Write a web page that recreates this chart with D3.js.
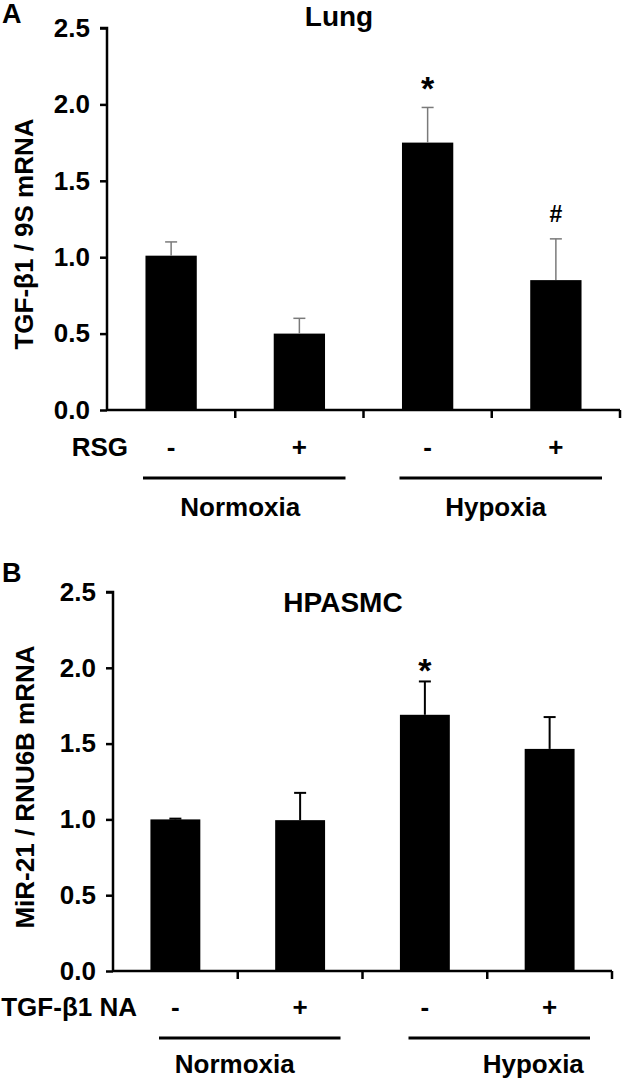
<!DOCTYPE html>
<html>
<head>
<meta charset="utf-8">
<script src="https://cdn.jsdelivr.net/npm/d3@7/dist/d3.min.js"></script>
<style>
  body { margin: 0; background: #fff; }
  svg text { font-family: "Liberation Sans", Arial, sans-serif; font-weight: bold; fill: #000; }
</style>
</head>
<body>
<svg id="chart" width="622" height="1080"></svg>
<script>
// values
const groups = ['N-', 'N+', 'H-', 'H+'];
const signs = ['-', '+', '-', '+'];
const conditionNames = ['Normoxia', 'Hypoxia'];
const yTicks = [0, 0.5, 1.0, 1.5, 2.0, 2.5];

const lungMean = [1.01, 0.50, 1.75, 0.85];
const lungErr = [0.09, 0.10, 0.23, 0.27];
const lungMarks = ['', '', '*', '#'];

const smcMean = [1.00, 0.995, 1.69, 1.465];
const smcErr = [0.005, 0.18, 0.22, 0.21];
const smcMarks = ['', '', '*', ''];

const svg = d3.select('#chart');

function drawPanel(p) {
  const g = svg.append('g');
  const y = d3.scaleLinear().domain([0, 2.5]).range([p.y0, p.yTop]);
  const x = d3.scaleBand().domain(groups).range([p.left, p.right]).padding(0);
  const bw = x.bandwidth() * 0.4;
  const cx = (d) => x(d) + x.bandwidth() / 2;

  // bars
  g.selectAll('rect').data(groups).join('rect')
    .attr('x', d => cx(d) - bw / 2)
    .attr('width', bw)
    .attr('y', (d, i) => y(p.mean[i]))
    .attr('height', (d, i) => y(0) - y(p.mean[i]))
    .attr('fill', '#000');

  // error bars (upper only)
  const eb = g.append('g').attr('stroke', p.errColor).attr('stroke-width', p.errWidth);
  groups.forEach((d, i) => {
    const top = y(p.mean[i] + p.err[i]);
    eb.append('line').attr('x1', cx(d)).attr('x2', cx(d)).attr('y1', y(p.mean[i])).attr('y2', top);
    eb.append('line').attr('x1', cx(d) - 6).attr('x2', cx(d) + 6).attr('y1', top).attr('y2', top);
  });

  // significance marks
  groups.forEach((d, i) => {
    const m = p.marks[i];
    if (!m) return;
    g.append('text')
      .attr('x', cx(d)).attr('y', y(p.mean[i] + p.err[i]) - p.markGap[m])
      .attr('text-anchor', 'middle')
      .attr('font-size', m === '*' ? 34 : 23)
      .text(m);
  });

  // y axis
  const yAxis = g.append('g')
    .attr('transform', `translate(${p.left},0)`)
    .call(d3.axisLeft(y).tickValues(yTicks).tickFormat(d3.format('.1f')).tickSize(7).tickPadding(10));
  yAxis.select('.domain').attr('stroke-width', 2.5).attr('d', `M${-7},${p.yTop}H0V${p.y0}`);
  yAxis.selectAll('.tick line').attr('stroke-width', 2.5);
  yAxis.selectAll('.tick text').attr('font-size', 26).style('font-family', '"Liberation Sans", Arial, sans-serif').style('font-weight', 'bold');

  // x axis with boundary ticks
  const bounds = groups.map(d => x(d)).concat([x(groups[groups.length - 1]) + x.bandwidth()]);
  g.append('line').attr('x1', p.left).attr('x2', p.right).attr('y1', p.y0).attr('y2', p.y0)
    .attr('stroke', '#000').attr('stroke-width', 2.5);
  g.selectAll('.xt').data(bounds.slice(1)).join('line').attr('class', 'xt')
    .attr('x1', d => d).attr('x2', d => d).attr('y1', p.y0).attr('y2', p.y0 + 8)
    .attr('stroke', '#000').attr('stroke-width', 2.5);

  // treatment row
  g.append('text').attr('x', p.rowLabelX).attr('y', p.rowY).attr('text-anchor', 'end')
    .attr('dominant-baseline', 'central').attr('font-size', 26).text(p.rowLabel);
  g.selectAll('.sign').data(groups).join('text').attr('class', 'sign')
    .attr('x', cx).attr('y', p.rowY).attr('text-anchor', 'middle')
    .attr('dominant-baseline', 'central').attr('font-size', 26)
    .text((d, i) => signs[i]);

  // condition lines and names
  conditionNames.forEach((name, k) => {
    const x1 = x(groups[k * 2]) + p.lineInset[0];
    const x2 = x(groups[k * 2 + 1]) + x.bandwidth() - p.lineInset[1];
    g.append('line').attr('x1', x1).attr('x2', x2).attr('y1', p.lineY).attr('y2', p.lineY)
      .attr('stroke', '#000').attr('stroke-width', 3);
    g.append('text').attr('x', (x1 + x2) / 2 + p.nameShift[k]).attr('y', p.nameY)
      .attr('text-anchor', 'middle').attr('dominant-baseline', 'central').attr('font-size', 26)
      .text(name);
  });

  // title, panel letter, y label
  g.append('text').attr('x', p.titleX).attr('y', p.titleY).attr('text-anchor', 'middle')
    .attr('dominant-baseline', 'central').attr('font-size', 28).text(p.title);
  g.append('text').attr('x', 2).attr('y', p.letterY)
    .attr('font-size', 27).text(p.letter);
  g.append('text').attr('transform', `translate(${p.yLabelX},${p.yLabelY}) rotate(-90)`)
    .attr('text-anchor', 'middle').attr('dominant-baseline', 'central').attr('font-size', 26)
    .text(p.yLabel);
}

drawPanel({
  letter: 'A', letterY: 23, title: 'Lung', titleX: 339, titleY: 16,
  yLabel: 'TGF-β1 / 9S mRNA', yLabelX: 24, yLabelY: 234,
  left: 107, right: 620, y0: 410, yTop: 28,
  mean: lungMean, err: lungErr, marks: lungMarks, markGap: { '*': 7, '#': 17 },
  errColor: '#7a7a7a', errWidth: 1.5,
  rowLabel: 'RSG', rowLabelX: 128, rowY: 447,
  lineY: 478, lineInset: [36, 18], nameY: 507, nameShift: [-4, -5]
});

drawPanel({
  letter: 'B', letterY: 582, title: 'HPASMC', titleX: 343, titleY: 602,
  yLabel: 'MiR-21 / RNU6B mRNA', yLabelX: 25, yLabelY: 787,
  left: 113, right: 612, y0: 971, yTop: 592,
  mean: smcMean, err: smcErr, marks: smcMarks, markGap: { '*': -1, '#': 17 },
  errColor: '#000', errWidth: 2,
  rowLabel: 'TGF-β1 NA', rowLabelX: 137, rowY: 1007,
  lineY: 1038, lineInset: [46, 22], nameY: 1064, nameShift: [-15, 34]
});
</script>
</body>
</html>
